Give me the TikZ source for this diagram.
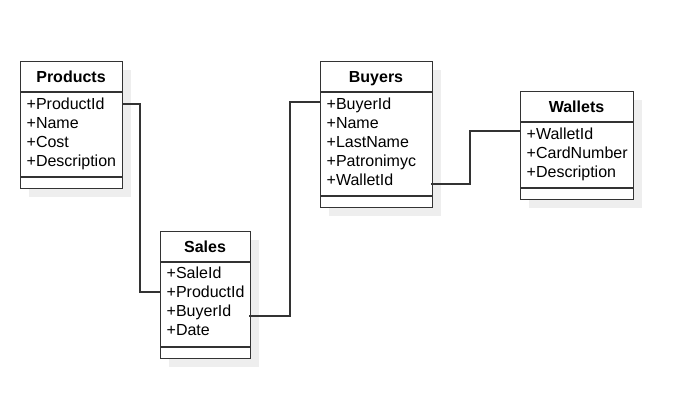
\documentclass[tikz,border=0pt]{standalone}
\usepackage{fontspec}
\setmainfont{Liberation Sans}
\usetikzlibrary{positioning}
\definecolor{umlline}{HTML}{333333}
\definecolor{umlshadow}{HTML}{EEEEEE}

\begin{document}
\begin{tikzpicture}[x=1pt,y=-1pt,
  classbox/.style={draw=umlline,line width=1.3pt,fill=white,inner sep=0pt,anchor=north west},
  shadowbox/.style={fill=umlshadow,draw=none},
  divider/.style={draw=umlline,line width=1.3pt},
  title/.style={font=\fontsize{16}{19}\selectfont\bfseries,inner sep=0pt,text height=11.5pt,text depth=0pt},
  attr/.style={font=\fontsize{16}{19}\selectfont,inner sep=0pt,anchor=west,text height=11.5pt,text depth=0pt},
  link/.style={draw=umlline,line width=1.3pt}]

\useasboundingbox (0,0) rectangle (692,416);

% Products
\fill[shadowbox] (29,70) rectangle (131,197);
\node[classbox,minimum width=102pt,minimum height=127pt] (products) at (20,61) {};
\draw[divider] (20,92) -- (122,92);
\draw[divider] (20,177) -- (122,177);
\node[title] (productsTitle) at (71,76.5) {Products};
\node[attr] (prodProductId) at (26.5,104) {+ProductId};
\node[attr] (prodName) at (26.5,123) {+Name};
\node[attr] (prodCost) at (26.5,142) {+Cost};
\node[attr] (prodDescription) at (26.5,161) {+Description};

% Sales
\fill[shadowbox] (169,240) rectangle (259,367);
\node[classbox,minimum width=90pt,minimum height=127pt] (sales) at (160,231) {};
\draw[divider] (160,262) -- (250,262);
\draw[divider] (160,347) -- (250,347);
\node[title] (salesTitle) at (205,246.5) {Sales};
\node[attr] (salSaleId) at (166.5,273) {+SaleId};
\node[attr] (salProductId) at (166.5,292) {+ProductId};
\node[attr] (salBuyerId) at (166.5,311) {+BuyerId};
\node[attr] (salDate) at (166.5,330) {+Date};

% Buyers
\fill[shadowbox] (329,70) rectangle (441,216);
\node[classbox,minimum width=112pt,minimum height=146pt] (buyers) at (320,61) {};
\draw[divider] (320,92) -- (432,92);
\draw[divider] (320,196) -- (432,196);
\node[title] (buyersTitle) at (376,76.5) {Buyers};
\node[attr] (buyBuyerId) at (326.5,104) {+BuyerId};
\node[attr] (buyName) at (326.5,123) {+Name};
\node[attr] (buyLastName) at (326.5,142) {+LastName};
\node[attr] (buyPatronimyc) at (326.5,161) {+Patronimyc};
\node[attr] (buyWalletId) at (326.5,180) {+WalletId};

% Wallets
\fill[shadowbox] (529,100) rectangle (642,208);
\node[classbox,minimum width=113pt,minimum height=108pt] (wallets) at (520,91) {};
\draw[divider] (520,122) -- (633,122);
\draw[divider] (520,188) -- (633,188);
\node[title] (walletsTitle) at (576.5,106.5) {Wallets};
\node[attr] (walWalletId) at (526.5,134) {+WalletId};
\node[attr] (walCardNumber) at (526.5,153) {+CardNumber};
\node[attr] (walDescription) at (526.5,172) {+Description};

% links
\draw[link] (products.east |- prodProductId) -| ([xshift=-20pt]sales.west |- salProductId) -- (sales.west |- salProductId);
\draw[link] ([shift={(-2,5)}]sales.east |- salBuyerId) -| ([shift={(-30,-2)}]buyers.west |- buyBuyerId) -- ([yshift=2pt]buyers.west |- buyBuyerId);
\draw[link] ([shift={(-2,4)}]buyers.east |- buyWalletId) -| ([shift={(-50,-3)}]wallets.west |- walWalletId) -- ([yshift=3pt]wallets.west |- walWalletId);

\end{tikzpicture}
\end{document}
